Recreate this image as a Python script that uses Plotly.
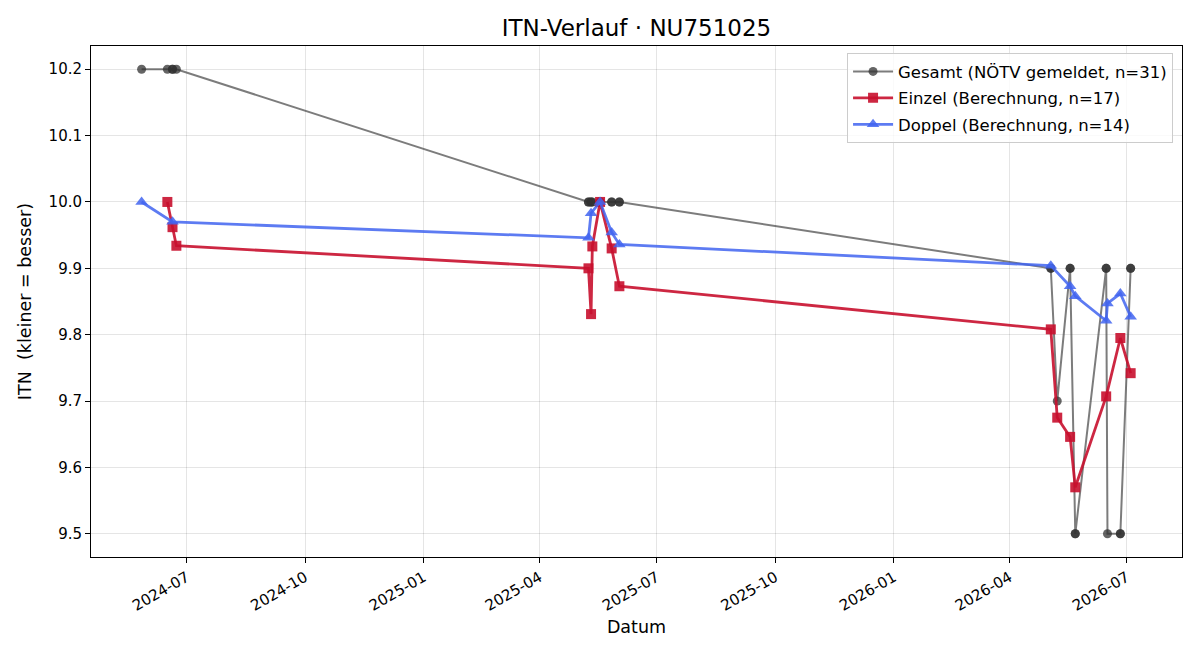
import plotly.graph_objects as go

# --- data ---
gesamt_dates = [
    "2024-05-27", "2024-06-16", "2024-06-20", "2024-06-20", "2024-06-23",
    "2025-05-09", "2025-05-09", "2025-05-11", "2025-05-11", "2025-05-12",
    "2025-05-18", "2025-05-18", "2025-05-27", "2025-05-27", "2025-06-02", "2025-06-02",
    "2026-05-03", "2026-05-03", "2026-05-08", "2026-05-18", "2026-05-18",
    "2026-05-22", "2026-05-22", "2026-06-15", "2026-06-15", "2026-06-16",
    "2026-06-26", "2026-06-26", "2026-07-04", "2026-07-04",
]
gesamt_vals = [
    10.2, 10.2, 10.2, 10.2, 10.2,
    10.0, 10.0, 10.0, 10.0, 10.0,
    10.0, 10.0, 10.0, 10.0, 10.0, 10.0,
    9.9, 9.9, 9.7, 9.9, 9.9,
    9.5, 9.5, 9.9, 9.9, 9.5,
    9.5, 9.5, 9.9, 9.9,
]

einzel_dates = [
    "2024-06-16", "2024-06-20", "2024-06-23",
    "2025-05-09", "2025-05-11", "2025-05-12", "2025-05-18", "2025-05-27", "2025-06-02",
    "2026-05-03", "2026-05-08", "2026-05-18", "2026-05-22", "2026-06-15", "2026-06-26", "2026-07-04",
]
einzel_vals = [
    10.0, 9.962, 9.934,
    9.900, 9.831, 9.933, 10.0, 9.930, 9.873,
    9.808, 9.675, 9.646, 9.570, 9.707, 9.795, 9.742,
]

doppel_dates = [
    "2024-05-27", "2024-06-20",
    "2025-05-09", "2025-05-11", "2025-05-18", "2025-05-27", "2025-06-02",
    "2026-05-03", "2026-05-18", "2026-05-22", "2026-06-15", "2026-06-16", "2026-06-26", "2026-07-04",
]
doppel_vals = [
    10.0, 9.970,
    9.946, 9.983, 10.0, 9.954, 9.936,
    9.904, 9.873, 9.858, 9.821, 9.847, 9.862, 9.827,
]

y_ticks = [9.5, 9.6, 9.7, 9.8, 9.9, 10.0, 10.1, 10.2]
x_ticks = ["2024-07-01", "2024-10-01", "2025-01-01", "2025-04-01", "2025-07-01",
           "2025-10-01", "2026-01-01", "2026-04-01", "2026-07-01"]
x_tick_labels = ["2024-07", "2024-10", "2025-01", "2025-04", "2025-07",
                 "2025-10", "2026-01", "2026-04", "2026-07"]

FONT = "DejaVu Sans"

fig = go.Figure()
fig.add_trace(go.Scatter(
    x=gesamt_dates, y=gesamt_vals, mode="lines+markers",
    name="Gesamt (NÖTV gemeldet, n=31)", legendgroup="g",
    line=dict(color="rgba(68,68,68,0.7)", width=2),
    marker=dict(symbol="circle", size=9, color="rgba(50,50,50,0.75)"),
))
fig.add_trace(go.Scatter(
    x=einzel_dates, y=einzel_vals, mode="lines+markers",
    name="Einzel (Berechnung, n=17)", legendgroup="e",
    line=dict(color="rgba(200,16,46,0.9)", width=2.8),
    marker=dict(symbol="square", size=10, color="rgba(200,16,46,0.9)"),
))
fig.add_trace(go.Scatter(
    x=doppel_dates, y=doppel_vals, mode="lines+markers",
    name="Doppel (Berechnung, n=14)", legendgroup="d",
    line=dict(color="rgba(65,100,240,0.85)", width=2.8),
    marker=dict(symbol="triangle-up", size=11, color="rgba(65,100,240,0.85)"),
))

axis_common = dict(
    showline=True, linecolor="black", linewidth=1, mirror=True,
    ticks="outside", ticklen=5, tickcolor="black", tickwidth=1,
    showgrid=True, gridcolor="rgba(0,0,0,0.1)", gridwidth=1,
    zeroline=False,
    tickfont=dict(family=FONT, size=15, color="black"),
)

fig.update_layout(
    width=1200, height=660,
    margin=dict(l=91, r=18, t=46, b=103),
    paper_bgcolor="white", plot_bgcolor="white",
    font=dict(family=FONT, color="black"),
    title=dict(text="ITN-Verlauf · NU751025", x=0.5, xref="paper",
               y=1 - 28 / 660, yref="container", yanchor="middle", xanchor="center",
               font=dict(family=FONT, size=23, color="black")),
    xaxis=dict(
        **axis_common,
        range=["2024-04-17 17:00", "2026-08-12 21:00"],
        tickvals=x_ticks, ticktext=x_tick_labels, tickangle=-30,
        title=dict(text="Datum", font=dict(family=FONT, size=17.5), standoff=6),
    ),
    yaxis=dict(
        **axis_common,
        range=[9.465, 10.235],
        tickvals=y_ticks, tickformat=".1f",
        title=dict(text="ITN  (kleiner = besser)", font=dict(family=FONT, size=17.5), standoff=12),
    ),
    legend=dict(
        x=0.9918, y=0.986, xanchor="right", yanchor="top",
        bgcolor="rgba(255,255,255,0.8)", bordercolor="rgba(204,204,204,1)", borderwidth=1,
        font=dict(family=FONT, size=16.5, color="black"),
        traceorder="grouped", tracegroupgap=2, itemwidth=40,
    ),
    showlegend=True,
)

fig.write_html("out.html")
